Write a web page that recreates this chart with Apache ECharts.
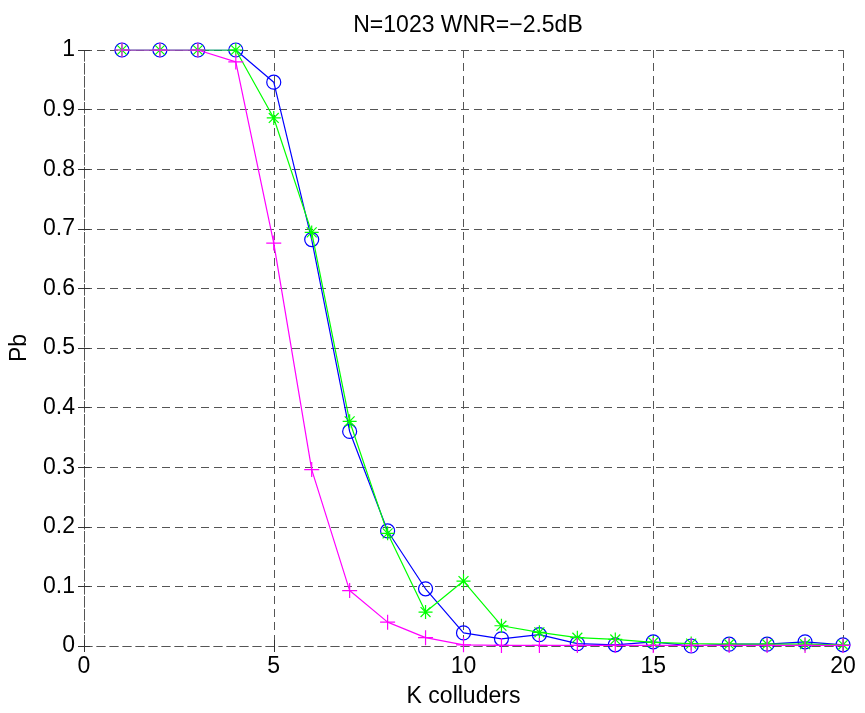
<!DOCTYPE html>
<html>
<head>
<meta charset="utf-8">
<script src="https://cdn.jsdelivr.net/npm/echarts@6/dist/echarts.min.js"></script>
<style>html,body{margin:0;padding:0;background:#fff;}#c{width:865px;height:713px;}</style>
</head>
<body>
<div id="c"></div>
<script>
const kValues = [1,2,3,4,5,6,7,8,9,10,11,12,13,14,15,16,17,18,19,20];
const blueCircle = [1,1,1,1,0.946,0.682,0.360,0.193,0.096,0.022,0.012,0.019,0.004,0.002,0.007,0.000,0.003,0.003,0.007,0.002];
const greenStar = [1,1,1,1,0.886,0.694,0.377,0.189,0.057,0.109,0.034,0.023,0.014,0.011,0.006,0.004,0.003,0.003,0.003,0.002];
const magentaPlus = [1,1,1,0.980,0.676,0.296,0.093,0.040,0.014,0.002,0.001,0.001,0.001,0.001,0.001,0.001,0.001,0.001,0.001,0.001];
const xTicks = [0,5,10,15,20];
const yTicks = [0,0.1,0.2,0.3,0.4,0.5,0.6,0.7,0.8,0.9,1];
const titleText = 'N=1023 WNR=\u22122.5dB';
const xName = 'K colluders';
const yName = 'Pb';

const FONT = 'Liberation Sans, Arial, sans-serif';
const FS = 23;
const gridColor = '#555555';
const dashed = {color: gridColor, width: 1, type: [8,5]};

function pairs(ys){ return kValues.map((k,i)=>[k, ys[i]]); }
function fmtY(v){ const r = Math.round(v*10)/10; return yTicks.some(t=>Math.abs(t-r)<1e-9) ? String(r) : ''; }

const starPath = 'path://M0,-10L0,10M-10,0L10,0M-7.07,-7.07L7.07,7.07M-7.07,7.07L7.07,-7.07';
const plusPath = 'path://M0,-10L0,10M-10,0L10,0';

const chart = echarts.init(document.getElementById('c'), null, {renderer:'canvas'});
const baseAxis = {
  axisLine: {show: true, lineStyle: dashed},
  splitLine: {show: false},
  axisTick: {show: true, inside: true, length: 6, lineStyle: {color: '#333', width: 1}}
};
chart.setOption({
  animation: false,
  backgroundColor: '#ffffff',
  title: {
    text: titleText, left: 463, top: 9, textAlign: 'center',
    textStyle: {fontFamily: FONT, fontSize: FS, fontWeight: 'normal', color: '#000'}
  },
  grid: {left: 83, top: 50, width: 760, height: 600, containLabel: false},
  xAxis: [
    Object.assign({}, baseAxis, {
      type: 'value', min: 0, max: 20, interval: 5, position: 'bottom',
      name: xName, nameLocation: 'middle', nameGap: 39,
      nameTextStyle: {fontFamily: FONT, fontSize: FS, color: '#000'},
      axisLabel: {fontFamily: FONT, fontSize: FS, color: '#000', margin: 9,
        formatter: v => xTicks.includes(v) ? String(v) : ''},
      splitLine: {show: true, lineStyle: dashed}
    }),
    Object.assign({}, baseAxis, {
      type: 'value', min: 0, max: 20, interval: 5, position: 'top',
      axisLabel: {show: false}
    })
  ],
  yAxis: [
    Object.assign({}, baseAxis, {
      type: 'value', min: 0, max: 1, interval: 0.1, position: 'left',
      name: yName, nameLocation: 'middle', nameGap: 53,
      nameTextStyle: {fontFamily: FONT, fontSize: FS, color: '#000'},
      axisLabel: {fontFamily: FONT, fontSize: FS, color: '#000', margin: 9, formatter: fmtY},
      splitLine: {show: true, lineStyle: dashed}
    }),
    Object.assign({}, baseAxis, {
      type: 'value', min: 0, max: 1, interval: 0.1, position: 'right',
      axisLabel: {show: false}
    })
  ],
  series: [
    {
      type: 'line', data: pairs(blueCircle), symbol: 'circle', symbolSize: 14,
      showAllSymbol: true,
      lineStyle: {color: '#0000ff', width: 1.2},
      itemStyle: {color: 'rgba(0,0,0,0)', borderColor: '#0000ff', borderWidth: 1.2},
      z: 3
    },
    {
      type: 'line', data: pairs(greenStar), symbol: starPath, symbolSize: 14,
      showAllSymbol: true,
      lineStyle: {color: '#00ff00', width: 1.2},
      itemStyle: {color: 'none', borderColor: '#00ff00', borderWidth: 1.2},
      z: 4
    },
    {
      type: 'line', data: pairs(magentaPlus), symbol: plusPath, symbolSize: 15,
      showAllSymbol: true,
      lineStyle: {color: '#ff00ff', width: 1.2},
      itemStyle: {color: 'none', borderColor: '#ff00ff', borderWidth: 1.2},
      z: 5
    }
  ]
});
</script>
</body>
</html>
